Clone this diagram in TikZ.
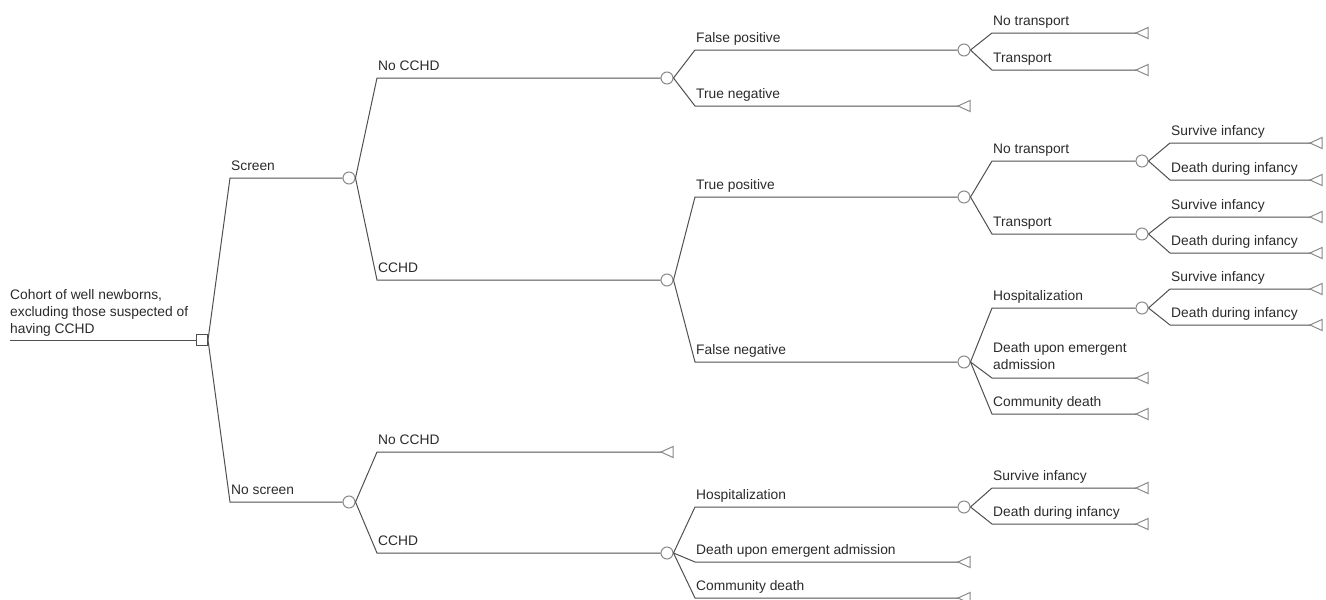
\documentclass[tikz,border=0pt]{standalone}
\usepackage{fontspec}
\setmainfont{Liberation Sans}
\usetikzlibrary{calc}
\definecolor{linec}{HTML}{505050}
\definecolor{nodec}{HTML}{8A8A8A}
\definecolor{txtc}{HTML}{2B2B2B}
\newcommand\termleaf[2]{\coordinate (#1) at #2; \draw[termstyle] (#1) -- ++(12,-5.5) -- ++(0,11) -- cycle;}
\newcommand\branch[2]{\draw[conn] let \p1=(#1.center), \p2=(#2) in (#1.east) -- (\x1+28pt,\y2) -- (#2);}
\begin{document}
\begin{tikzpicture}[x=1pt,y=-1pt,
  conn/.style={draw=linec, line width=1pt},
  termstyle/.style={draw=nodec, fill=white, line width=1pt, line join=miter},
  chance/.style={circle, draw=nodec, fill=white, line width=1pt, minimum size=12pt, inner sep=0pt},
  decision/.style={rectangle, draw=linec, fill=white, line width=1pt, minimum size=11pt, inner sep=0pt},
  lbl/.style={anchor=base west, inner sep=0pt, text=txtc, font=\fontsize{13.8}{17}\selectfont},
  mlbl/.style={lbl, anchor=south west, align=left, text depth=0pt}
]
\useasboundingbox[fill=white] (0,0) rectangle (1326,600);

% decision and chance nodes
\node[decision] (s0) at (202,340) {};
\node[chance] (c1) at (349,178) {};
\node[chance] (c2) at (349,502) {};
\node[chance] (c3) at (667,78) {};
\node[chance] (c4) at (667,280) {};
\node[chance] (c5) at (964,50) {};
\node[chance] (c6) at (964,197) {};
\node[chance] (c7) at (964,362) {};
\node[chance] (c8) at (1142,161) {};
\node[chance] (c9) at (1142,234) {};
\node[chance] (c10) at (1142,308) {};
\node[chance] (c11) at (667,553) {};
\node[chance] (c12) at (964,507) {};

% terminal nodes
\termleaf{tn}{(958,106)}
\termleaf{t5a}{(1136,33)}
\termleaf{t5b}{(1136,70)}
\termleaf{t8a}{(1310,143)}
\termleaf{t8b}{(1310,180)}
\termleaf{t9a}{(1310,217)}
\termleaf{t9b}{(1310,253)}
\termleaf{t10a}{(1310,289)}
\termleaf{t10b}{(1310,325)}
\termleaf{t7b}{(1136,378)}
\termleaf{t7c}{(1136,414)}
\termleaf{t2a}{(661,452)}
\termleaf{t11b}{(958,562)}
\termleaf{t11c}{(958,598)}
\termleaf{t12a}{(1136,488)}
\termleaf{t12b}{(1136,524)}

% root line
\coordinate (start) at (10,340);
\draw[conn] (start) -- (s0);

% branches
\branch{s0}{c1}
\branch{s0}{c2}
\branch{c1}{c3}
\branch{c1}{c4}
\branch{c3}{c5}
\branch{c3}{tn}
\branch{c5}{t5a}
\branch{c5}{t5b}
\branch{c4}{c6}
\branch{c4}{c7}
\branch{c6}{c8}
\branch{c6}{c9}
\branch{c8}{t8a}
\branch{c8}{t8b}
\branch{c9}{t9a}
\branch{c9}{t9b}
\branch{c7}{c10}
\branch{c7}{t7b}
\branch{c7}{t7c}
\branch{c10}{t10a}
\branch{c10}{t10b}
\branch{c2}{t2a}
\branch{c2}{c11}
\branch{c11}{c12}
\branch{c11}{t11b}
\branch{c11}{t11c}
\branch{c12}{t12a}
\branch{c12}{t12b}

% labels
\node[mlbl] (lroot) at (10,334) {Cohort of well newborns,\\excluding those suspected of\\having CCHD};
\node[lbl] (lscreen) at (231,170) {Screen};
\node[lbl] (lnoscreen) at (231,494) {No screen};
\node[lbl] (lnocchd1) at (378,70) {No CCHD};
\node[lbl] (lcchd1) at (378,272) {CCHD};
\node[lbl] (lfp) at (696,42) {False positive};
\node[lbl] (ltn) at (696,98) {True negative};
\node[lbl] (lnt1) at (993,25) {No transport};
\node[lbl] (ltr1) at (993,62) {Transport};
\node[lbl] (ltp) at (696,189) {True positive};
\node[lbl] (lfn) at (696,354) {False negative};
\node[lbl] (lnt2) at (993,153) {No transport};
\node[lbl] (ltr2) at (993,226) {Transport};
\node[lbl] (ls1) at (1171,135) {Survive infancy};
\node[lbl] (ld1) at (1171,172) {Death during infancy};
\node[lbl] (ls2) at (1171,209) {Survive infancy};
\node[lbl] (ld2) at (1171,245) {Death during infancy};
\node[lbl] (ls3) at (1171,281) {Survive infancy};
\node[lbl] (ld3) at (1171,317) {Death during infancy};
\node[lbl] (lh1) at (993,300) {Hospitalization};
\node[mlbl] (lde1) at (993,370) {Death upon emergent\\admission};
\node[lbl] (lcd1) at (993,406) {Community death};
\node[lbl] (lnocchd2) at (378,444) {No CCHD};
\node[lbl] (lcchd2) at (378,545) {CCHD};
\node[lbl] (lh2) at (696,499) {Hospitalization};
\node[lbl] (lde2) at (696,554) {Death upon emergent admission};
\node[lbl] (lcd2) at (696,590) {Community death};
\node[lbl] (ls4) at (993,480) {Survive infancy};
\node[lbl] (ld4) at (993,516) {Death during infancy};
\end{tikzpicture}
\end{document}
